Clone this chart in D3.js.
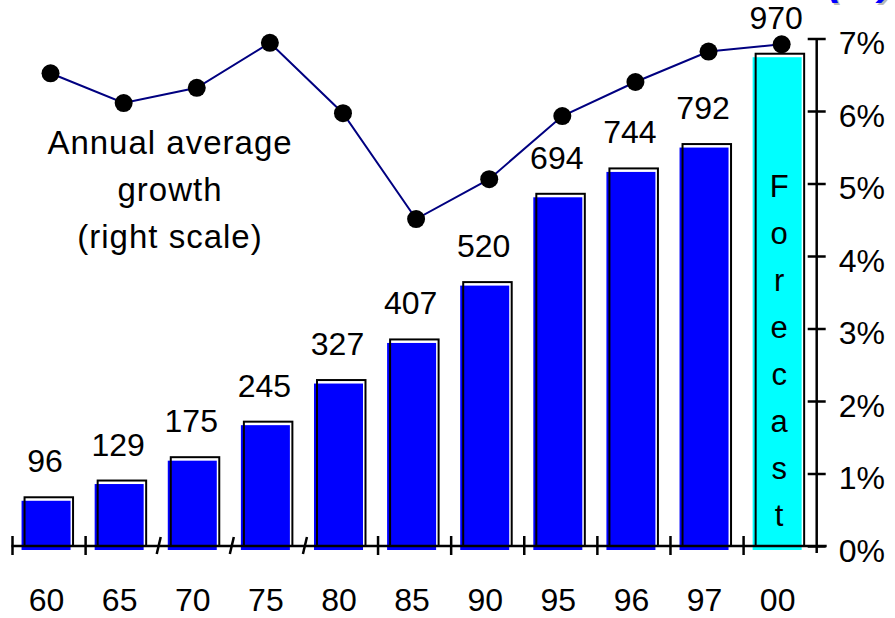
<!DOCTYPE html>
<html>
<head>
<meta charset="utf-8">
<script src="https://cdn.jsdelivr.net/npm/d3@7/dist/d3.min.js"></script>
<style>
  html, body { margin: 0; padding: 0; background: #fff; }
  svg { display: block; }
  text { font-family: "Liberation Sans", Arial, Helvetica, sans-serif; fill: #000; }
</style>
</head>
<body>
<svg id="chart" width="895" height="618"></svg>
<script>
// Years on the horizontal axis ("00" is the forecast year)
const categories = ["60", "65", "70", "75", "80", "85", "90", "95", "96", "97", "00"];
// Totals shown as bars (left scale, not drawn)
const totals = [96, 129, 175, 245, 327, 407, 520, 694, 744, 792, 970];
// Annual average growth in percent (right scale)
const growth = [6.52, 6.11, 6.32, 6.94, 5.97, 4.51, 5.06, 5.93, 6.40, 6.82, 6.92];
// Years that are forecasts
const forecastYears = ["00"];
// Right-axis tick values (percent)
const rightTicks = [0, 1, 2, 3, 4, 5, 6, 7];
// Category boundaries drawn as axis breaks
const axisBreaks = [2, 3, 4];
// Annotation for the line series
const noteLines = ["Annual average", "growth", "(right scale)"];
const forecastLabel = "Forecast";
const titleTail = "(%)";

const svg = d3.select("#chart");
const baseY = 546, topY = 38.5;

const x = d3.scaleBand().domain(categories).range([12.5, 816.7]).padding(0);
const y = d3.scaleLinear().domain([0, 1000]).range([baseY, topY]);
const yr = d3.scaleLinear().domain([0, 7]).range([baseY, topY]);
const cx = d => x(d) + x.bandwidth() / 2;

// Title (runs off the top edge)
const title = svg.append("g");
title.append("text").attr("x", 893).attr("y", -6).attr("text-anchor", "end")
  .style("font-size", "42px").style("font-weight", "bold").style("font-style", "italic")
  .style("fill", "#b8b8b8").attr("dx", 2).attr("dy", 2).text(titleTail);
title.append("text").attr("x", 893).attr("y", -6).attr("text-anchor", "end")
  .style("font-size", "42px").style("font-weight", "bold").style("font-style", "italic")
  .style("fill", "#0000ff").text(titleTail);

// Bars
const bars = svg.append("g");
categories.forEach((c, i) => {
  const v = totals[i];
  const isForecast = forecastYears.includes(c);
  const top = y(v);
  bars.append("rect")
    .attr("x", cx(c) - 27.5).attr("y", top + 3.5)
    .attr("width", 49).attr("height", 550 - (top + 3.5))
    .attr("fill", isForecast ? "#00ffff" : "#0000ff");
  bars.append("rect")
    .attr("x", cx(c) - 24.5).attr("y", top)
    .attr("width", 48.5).attr("height", baseY - top)
    .attr("fill", "none").attr("stroke", "#000").attr("stroke-width", 2);
  bars.append("text")
    .attr("x", cx(c) - 4).attr("y", top - 25)
    .attr("text-anchor", "middle").style("font-size", "32px")
    .text(v);
});

// Vertical "Forecast" label inside the forecast bar
forecastYears.forEach(c => {
  const g = svg.append("g");
  forecastLabel.split("").forEach((ch, k) => {
    g.append("text").attr("x", cx(c) - 1).attr("y", 197 + k * 47)
      .attr("text-anchor", "middle").style("font-size", "31px").text(ch);
  });
});

// Horizontal axis
const ax = svg.append("g").attr("stroke", "#000").attr("stroke-width", 2.5);
ax.append("line").attr("x1", 11.5).attr("x2", 826.7).attr("y1", baseY).attr("y2", baseY);
categories.forEach((c, i) => {
  const bx = x(c);
  if (axisBreaks.includes(i)) {
    ax.append("line").attr("x1", bx - 2).attr("x2", bx + 2).attr("y1", 554).attr("y2", 537);
  } else {
    ax.append("line").attr("x1", bx).attr("x2", bx).attr("y1", 536).attr("y2", 555);
  }
});
svg.append("g").selectAll("text").data(categories).join("text")
  .attr("x", d => cx(d) - 2.5).attr("y", 611)
  .attr("text-anchor", "middle").style("font-size", "32px")
  .text(d => d);

// Right axis (percent)
const rAxis = svg.append("g").attr("transform", "translate(816.7,0)")
  .call(d3.axisRight(yr).tickValues(rightTicks).tickFormat(d => d + "%").tickSize(9).tickPadding(13));
rAxis.select(".domain").remove();
rAxis.selectAll(".tick line").attr("x1", -9).attr("x2", 9).attr("stroke", "#000").attr("stroke-width", 2.5);
rAxis.selectAll(".tick text").attr("x", 22).attr("dy", "0.47em")
  .style("font-size", "32px").style("font-family", "'Liberation Sans', Arial, sans-serif").attr("fill", "#000");
svg.append("line").attr("x1", 816.7).attr("x2", 816.7).attr("y1", topY).attr("y2", 553)
  .attr("stroke", "#000").attr("stroke-width", 2.5);

// Growth line
const line = d3.line().x((d, i) => cx(categories[i]) + 1.5).y(d => yr(d));
svg.append("path").datum(growth).attr("d", line)
  .attr("fill", "none").attr("stroke", "#000080").attr("stroke-width", 2);
svg.append("g").selectAll("circle").data(growth).join("circle")
  .attr("cx", (d, i) => cx(categories[i]) + 1.5).attr("cy", d => yr(d))
  .attr("r", 9).attr("fill", "#000");

// Annotation
const note = svg.append("text").attr("text-anchor", "middle")
  .style("font-size", "33px").style("letter-spacing", "1px");
noteLines.forEach((t, k) => {
  note.append("tspan").attr("x", 170).attr("y", 153.5 + k * 47).text(t);
});
</script>
</body>
</html>
